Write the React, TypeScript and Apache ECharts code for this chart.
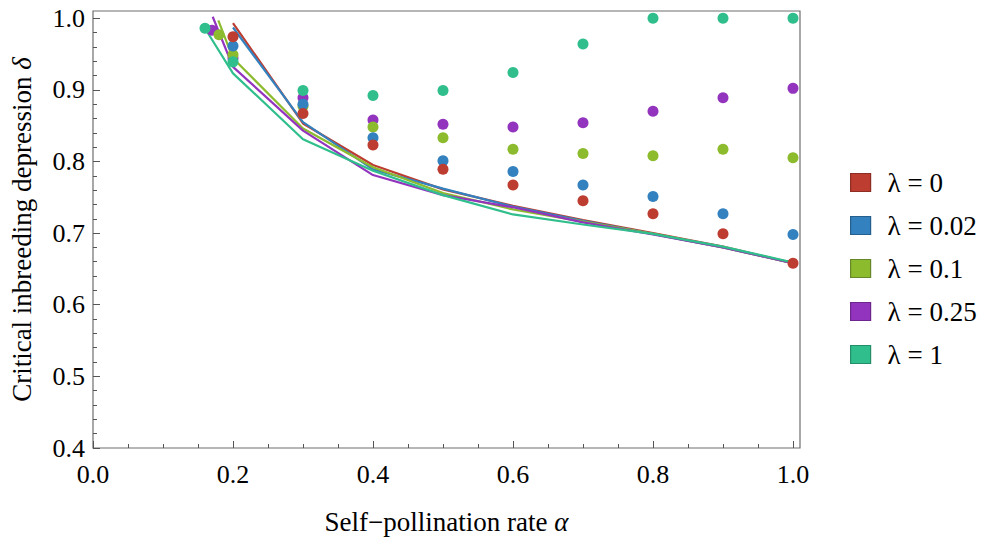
import React, { useEffect, useRef } from 'react';
import * as echarts from 'echarts';

const FONT = 'Liberation Serif';

const seriesNames = ['λ = 0', 'λ = 0.02', 'λ = 0.1', 'λ = 0.25', 'λ = 1'];
const seriesColors = ['#BD3D30', '#3381BF', '#8CBB2E', '#9334BE', '#30BF8C'];
const borderColors = ['#8E2D24', '#245F8E', '#66882A', '#6D268D', '#238E68'];

// Curves (critical threshold lines)
const lineAlpha0 = [0.2, 0.3, 0.4, 0.5, 0.6, 0.7, 0.8, 0.9, 1.0];
const lineDelta0 = [0.993, 0.853, 0.795, 0.761, 0.738, 0.718, 0.7, 0.681, 0.658];
const lineAlpha002 = [0.2, 0.3, 0.4, 0.5, 0.6, 0.7, 0.8, 0.9, 1.0];
const lineDelta002 = [0.987, 0.855, 0.789, 0.762, 0.737, 0.717, 0.699, 0.68, 0.658];
const lineAlpha01 = [0.179, 0.2, 0.3, 0.4, 0.5, 0.6, 0.7, 0.8, 0.9, 1.0];
const lineDelta01 = [0.997, 0.944, 0.846, 0.792, 0.756, 0.733, 0.716, 0.699, 0.68, 0.658];
const lineAlpha025 = [0.171, 0.2, 0.3, 0.4, 0.5, 0.6, 0.7, 0.8, 0.9, 1.0];
const lineDelta025 = [1.002, 0.932, 0.843, 0.781, 0.753, 0.736, 0.715, 0.698, 0.68, 0.658];
const lineAlpha1 = [0.163, 0.2, 0.3, 0.4, 0.5, 0.6, 0.7, 0.8, 0.9, 1.0];
const lineDelta1 = [0.981, 0.923, 0.831, 0.787, 0.753, 0.726, 0.712, 0.699, 0.681, 0.659];

// Simulation points
const dotAlpha0 = [0.2, 0.3, 0.4, 0.5, 0.6, 0.7, 0.8, 0.9, 1.0];
const dotDelta0 = [0.974, 0.867, 0.823, 0.789, 0.767, 0.745, 0.727, 0.699, 0.658];
const dotAlpha002 = [0.2, 0.3, 0.4, 0.5, 0.6, 0.7, 0.8, 0.9, 1.0];
const dotDelta002 = [0.961, 0.88, 0.833, 0.801, 0.786, 0.767, 0.751, 0.727, 0.698];
const dotAlpha01 = [0.18, 0.2, 0.3, 0.4, 0.5, 0.6, 0.7, 0.8, 0.9, 1.0];
const dotDelta01 = [0.977, 0.949, 0.877, 0.848, 0.833, 0.817, 0.811, 0.808, 0.817, 0.805];
const dotAlpha025 = [0.17, 0.2, 0.3, 0.4, 0.5, 0.6, 0.7, 0.8, 0.9, 1.0];
const dotDelta025 = [0.983, 0.944, 0.889, 0.858, 0.852, 0.848, 0.854, 0.87, 0.889, 0.902];
const dotAlpha1 = [0.16, 0.2, 0.3, 0.4, 0.5, 0.6, 0.7, 0.8, 0.9, 1.0];
const dotDelta1 = [0.986, 0.939, 0.899, 0.892, 0.899, 0.924, 0.964, 1.0, 1.0, 1.0];

// Ticks
const xMajorTicks = [0, 0.2, 0.4, 0.6, 0.8, 1.0];
const xMinorTicks = [0.05, 0.1, 0.15, 0.25, 0.3, 0.35, 0.45, 0.5, 0.55, 0.65, 0.7, 0.75, 0.85, 0.9, 0.95];
const yMajorTicks = [0.4, 0.5, 0.6, 0.7, 0.8, 0.9, 1.0];
const yMinorTicks = [
  0.42, 0.44, 0.46, 0.48, 0.52, 0.54, 0.56, 0.58, 0.62, 0.64, 0.66, 0.68,
  0.72, 0.74, 0.76, 0.78, 0.82, 0.84, 0.86, 0.88, 0.92, 0.94, 0.96, 0.98,
];

const lineAlphas = [lineAlpha0, lineAlpha002, lineAlpha01, lineAlpha025, lineAlpha1];
const lineDeltas = [lineDelta0, lineDelta002, lineDelta01, lineDelta025, lineDelta1];
const dotAlphas = [dotAlpha0, dotAlpha002, dotAlpha01, dotAlpha025, dotAlpha1];
const dotDeltas = [dotDelta0, dotDelta002, dotDelta01, dotDelta025, dotDelta1];
const dotDrawOrder = [3, 2, 4, 1, 0];

const pairs = (xs: number[], ys: number[]) => xs.map((x, i) => [x, ys[i]]);

export default function App() {
  const ref = useRef<HTMLDivElement>(null);

  useEffect(() => {
    document.body.style.margin = '0';
    if (!ref.current) return;
    const chart = echarts.init(ref.current, undefined, { renderer: 'svg' });

    const axisGray = '#6e6e6e';
    const lineSeries = seriesNames.map((name, i) => ({
      name,
      type: 'line',
      xAxisIndex: 0,
      yAxisIndex: 0,
      data: pairs(lineAlphas[i], lineDeltas[i]),
      showSymbol: false,
      symbol: 'none',
      lineStyle: { color: seriesColors[i], width: 2.2 },
      itemStyle: { color: seriesColors[i] },
      z: 2,
    }));
    const dotSeries = dotDrawOrder.map((i) => ({
      name: seriesNames[i],
      type: 'scatter',
      xAxisIndex: 0,
      yAxisIndex: 0,
      data: pairs(dotAlphas[i], dotDeltas[i]),
      symbol: 'circle',
      symbolSize: 11,
      itemStyle: { color: seriesColors[i], opacity: 1 },
      z: 3,
    }));

    const tickStyle = { color: '#000', fontFamily: FONT, fontSize: 26 };
    const titleStyle = { color: '#000', fontFamily: FONT, fontSize: 27 };
    const italic = { i: { fontFamily: FONT, fontSize: 27, fontStyle: 'italic', color: '#000' } };

    chart.setOption({
      animation: false,
      backgroundColor: '#fff',
      grid: {
        left: 92,
        right: 183,
        top: 11,
        bottom: 92,
        show: true,
        borderColor: axisGray,
        borderWidth: 1.2,
        backgroundColor: 'transparent',
      },
      legend: {
        orient: 'vertical',
        left: 845,
        top: 164,
        itemWidth: 20,
        itemHeight: 18,
        itemGap: 16,
        icon: 'rect',
        selectedMode: false,
        data: seriesNames.map((name, i) => ({
          name,
          icon: 'rect',
          itemStyle: { color: seriesColors[i], borderColor: borderColors[i], borderWidth: 1.2 },
        })),
        textStyle: {
          color: '#000',
          fontFamily: FONT,
          fontSize: 27,
          padding: [0, 0, 0, 12],
        },
      },
      xAxis: [
        {
          type: 'value',
          min: 0,
          max: 1.01,
          position: 'bottom',
          name: 'Self−pollination rate {i|α}',
          nameLocation: 'middle',
          nameGap: 60,
          nameTextStyle: { ...titleStyle, rich: italic },
          axisLine: { show: false },
          splitLine: { show: false },
          axisTick: { show: true, inside: true, length: 7, customValues: xMajorTicks, lineStyle: { color: '#555' } },
          axisLabel: {
            ...tickStyle,
            margin: 13,
            customValues: xMajorTicks,
            formatter: (v: number) => v.toFixed(1),
          },
        },
        {
          type: 'value',
          min: 0,
          max: 1.01,
          position: 'bottom',
          axisLine: { show: false },
          splitLine: { show: false },
          axisLabel: { show: false, customValues: xMinorTicks },
          axisTick: { show: true, inside: true, length: 4, customValues: xMinorTicks, lineStyle: { color: '#555' } },
        },
      ],
      yAxis: [
        {
          type: 'value',
          min: 0.4,
          max: 1.01,
          position: 'left',
          name: 'Critical inbreeding depression {i|δ}',
          nameLocation: 'middle',
          nameGap: 58,
          nameTextStyle: { ...titleStyle, rich: italic },
          axisLine: { show: false },
          splitLine: { show: false },
          axisTick: { show: true, inside: true, length: 7, customValues: yMajorTicks, lineStyle: { color: '#555' } },
          axisLabel: {
            ...tickStyle,
            margin: 8,
            customValues: yMajorTicks,
            formatter: (v: number) => v.toFixed(1),
          },
        },
        {
          type: 'value',
          min: 0.4,
          max: 1.01,
          position: 'left',
          axisLine: { show: false },
          splitLine: { show: false },
          axisLabel: { show: false, customValues: yMinorTicks },
          axisTick: { show: true, inside: true, length: 4, customValues: yMinorTicks, lineStyle: { color: '#555' } },
        },
      ],
      series: [...lineSeries, ...dotSeries],
    });

    return () => chart.dispose();
  }, []);

  return <div ref={ref} style={{ width: 983, height: 540 }} />;
}
